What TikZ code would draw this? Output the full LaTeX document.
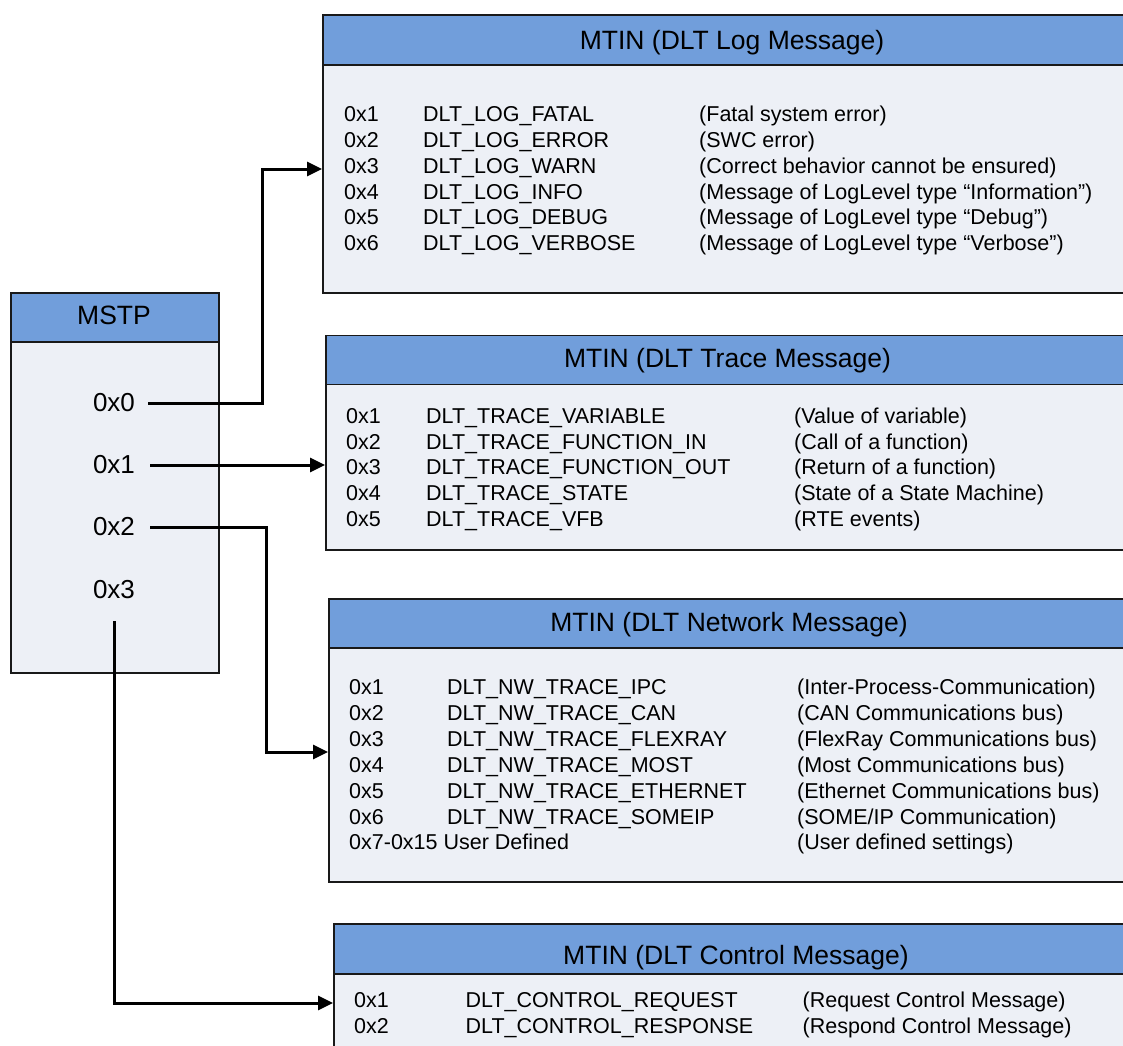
\documentclass[tikz,border=0pt]{standalone}
\usepackage{fontspec}
\setmainfont{Liberation Sans}
\usetikzlibrary{arrows.meta}
\definecolor{hdrblue}{RGB}{113,158,219}
\definecolor{bodygray}{RGB}{237,240,246}
\definecolor{edgecol}{RGB}{25,25,25}
\begin{document}
\begin{tikzpicture}[x=1pt,y=-1pt,
  hdr/.style={draw=edgecol, line width=1.9pt, fill=hdrblue, anchor=north west, inner sep=0pt},
  bodybox/.style={draw=edgecol, line width=1.9pt, fill=bodygray, anchor=north west, inner sep=0pt},
  title/.style={anchor=base, inner sep=0pt, font=\fontsize{26.5}{30}\selectfont},
  row/.style={anchor=base west, inner sep=0pt, font=\fontsize{21.5}{25}\selectfont},
  item/.style={inner sep=0pt, font=\fontsize{26}{30}\selectfont},
  conn/.style={draw=black, line width=3pt, -{Triangle[length=15pt,width=14pt]}}]
\useasboundingbox (0,0) rectangle (1123,1045);
\clip (0,0) rectangle (1123,1045);
\fill[white] (0,0) rectangle (1123,1045);

% MSTP box
\node[bodybox, minimum width=208pt, minimum height=331pt] (mstpb) at (10,341) {};
\node[hdr, minimum width=208pt, minimum height=49pt] (mstph) at (10,292) {};
\node[title] (mstpt) at (114,324) {MSTP};
\node[item] (m0) at (114,403) {0x0};
\node[item] (m1) at (114,465) {0x1};
\node[item] (m2) at (114,527) {0x2};
\node[item] (m3) at (114,590) {0x3};

% Log box
\node[bodybox, minimum width=820pt, minimum height=228pt] (logb) at (322,64) {};
\node[hdr, minimum width=820pt, minimum height=50pt] (logh) at (322,14) {};
\node[title] (logt) at (732,49.3) {MTIN (DLT Log Message)};
\foreach \c/\n/\d [count=\i from 0] in {
  0x1/DLT\_LOG\_FATAL/(Fatal system error),
  0x2/DLT\_LOG\_ERROR/(SWC error),
  0x3/DLT\_LOG\_WARN/(Correct behavior cannot be ensured),
  0x4/DLT\_LOG\_INFO/(Message of LogLevel type “Information”),
  0x5/DLT\_LOG\_DEBUG/(Message of LogLevel type “Debug”),
  0x6/DLT\_LOG\_VERBOSE/(Message of LogLevel type “Verbose”)}{
  \node[row] (la\i) at (344,121.7+25.8*\i) {\c};
  \node[row] (lb\i) at (423,121.7+25.8*\i) {\n};
  \node[row] (lc\i) at (699,121.7+25.8*\i) {\d};
}

% Trace box
\node[bodybox, minimum width=805pt, minimum height=165.5pt] (traceb) at (325,383.5) {};
\node[hdr, minimum width=805pt, minimum height=49pt] (traceh) at (325,334.5) {};
\node[title] (tracet) at (727.5,367.3) {MTIN (DLT Trace Message)};
\foreach \c/\n/\d [count=\i from 0] in {
  0x1/DLT\_TRACE\_VARIABLE/(Value of variable),
  0x2/DLT\_TRACE\_FUNCTION\_IN/(Call of a function),
  0x3/DLT\_TRACE\_FUNCTION\_OUT/(Return of a function),
  0x4/DLT\_TRACE\_STATE/(State of a State Machine),
  0x5/DLT\_TRACE\_VFB/(RTE events)}{
  \node[row] (ta\i) at (346,423.3+25.8*\i) {\c};
  \node[row] (tb\i) at (426,423.3+25.8*\i) {\n};
  \node[row] (tc\i) at (794,423.3+25.8*\i) {\d};
}

% Network box
\node[bodybox, minimum width=802pt, minimum height=234pt] (netb) at (328,647) {};
\node[hdr, minimum width=802pt, minimum height=49pt] (neth) at (328,598) {};
\node[title] (nett) at (729,631.7) {MTIN (DLT Network Message)};
\foreach \c/\n/\d [count=\i from 0] in {
  0x1/DLT\_NW\_TRACE\_IPC/(Inter-Process-Communication),
  0x2/DLT\_NW\_TRACE\_CAN/(CAN Communications bus),
  0x3/DLT\_NW\_TRACE\_FLEXRAY/(FlexRay Communications bus),
  0x4/DLT\_NW\_TRACE\_MOST/(Most Communications bus),
  0x5/DLT\_NW\_TRACE\_ETHERNET/(Ethernet Communications bus),
  0x6/DLT\_NW\_TRACE\_SOMEIP/{(SOME/IP Communication)}}{
  \node[row] (na\i) at (349,694.5+25.9*\i) {\c};
  \node[row] (nb\i) at (447,694.5+25.9*\i) {\n};
  \node[row] (nc\i) at (797,694.5+25.9*\i) {\d};
}
\node[row] (na6) at (349,849.9) {0x7-0x15 User Defined};
\node[row] (nc6) at (797,849.9) {(User defined settings)};

% Control box
\node[bodybox, minimum width=806pt, minimum height=100pt] (ctrlb) at (333,973) {};
\node[hdr, minimum width=806pt, minimum height=50pt] (ctrlh) at (333,923) {};
\node[title] (ctrlt) at (736,964.3) {MTIN (DLT Control Message)};
\foreach \c/\n/\d [count=\i from 0] in {
  0x1/DLT\_CONTROL\_REQUEST/(Request Control Message),
  0x2/DLT\_CONTROL\_RESPONSE/(Respond Control Message)}{
  \node[row] (ca\i) at (354,1007.7+25.9*\i) {\c};
  \node[row] (cb\i) at (465.5,1007.7+25.9*\i) {\n};
  \node[row] (cc\i) at (802.5,1007.7+25.9*\i) {\d};
}

% Connectors
\coordinate (j0) at (262,169);
\coordinate (j2) at (266,752);
\coordinate (j3) at (115,1003);
\draw[conn] ([xshift=13pt]m0.east) -| (j0) -- (logb.west |- j0);
\draw[conn] ([xshift=15pt]m1.east) -- (traceb.west |- m1.east);
\draw[conn] ([xshift=15pt]m2.east) -| (j2) -- (netb.west |- j2);
\draw[conn] ([yshift=-22pt]m3.south) |- (ctrlb.west |- j3);
\end{tikzpicture}
\end{document}
